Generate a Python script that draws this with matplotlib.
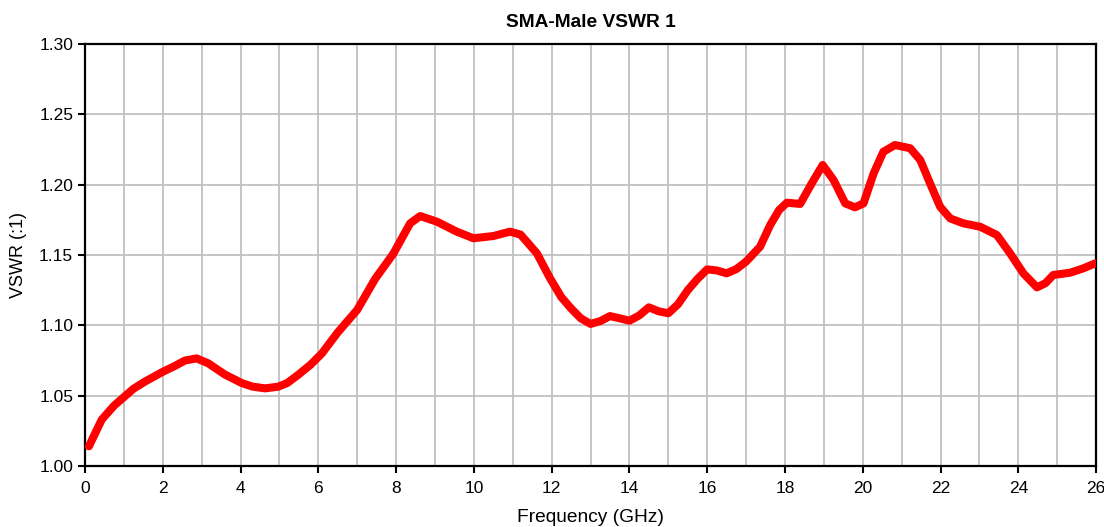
import numpy as np
import matplotlib.pyplot as plt

plt.rcParams['font.family'] = ['Liberation Sans', 'DejaVu Sans']

# values
freq_ghz = [0.1, 0.43, 0.75, 1.0, 1.25, 1.54, 2.0, 2.3, 2.57, 2.87, 3.17, 3.6,
            4.03, 4.3, 4.63, 4.97, 5.2, 5.49, 5.8, 6.09, 6.5, 7.0, 7.46, 7.93,
            8.36, 8.62, 9.05, 9.56, 9.99, 10.5, 10.93, 11.2, 11.36, 11.62, 11.96,
            12.25, 12.5, 12.75, 13.0, 13.25, 13.5, 13.75, 14.0, 14.25, 14.5,
            14.75, 15.0, 15.25, 15.5, 15.75, 16.0, 16.25, 16.5, 16.75, 17.0,
            17.36, 17.62, 17.85, 18.05, 18.39, 18.69, 18.97, 19.25, 19.55, 19.8,
            20.02, 20.28, 20.53, 20.83, 21.22, 21.48, 21.73, 21.99, 22.25, 22.59,
            23.02, 23.45, 23.79, 24.13, 24.48, 24.7, 24.9, 25.33, 25.68, 25.98]
vswr = [1.014, 1.033, 1.043, 1.049, 1.055, 1.060, 1.067, 1.071, 1.075, 1.0765,
        1.073, 1.065, 1.059, 1.0565, 1.0552, 1.0564, 1.059, 1.065, 1.072, 1.080,
        1.095, 1.111, 1.133, 1.151, 1.1725, 1.1777, 1.1737, 1.1666, 1.1619,
        1.1635, 1.1666, 1.1645, 1.1595, 1.1512, 1.1334, 1.120, 1.112, 1.105,
        1.101, 1.103, 1.1066, 1.105, 1.1033, 1.107, 1.1128, 1.110, 1.1086,
        1.115, 1.125, 1.133, 1.1398, 1.139, 1.137, 1.140, 1.1453, 1.1559,
        1.1713, 1.182, 1.1872, 1.1863, 1.201, 1.214, 1.2033, 1.1867, 1.1839,
        1.1867, 1.208, 1.2234, 1.2282, 1.2259, 1.2175, 1.201, 1.1843, 1.176,
        1.1725, 1.1701, 1.1642, 1.1512, 1.137, 1.127, 1.130, 1.1358, 1.1374,
        1.1406, 1.1441]

fig = plt.figure(figsize=(11.04, 5.27), dpi=100)
ax = fig.add_axes([0.077, 0.1157, 0.9158, 0.8008])

ax.plot(freq_ghz, vswr, color='#ff0000', linewidth=5.8,
        solid_joinstyle='round', solid_capstyle='round', zorder=3)

ax.set_xlim(0, 26)
ax.set_ylim(1.00, 1.30)
ax.set_xticks(np.arange(0, 27, 2))
ax.set_xticks(np.arange(0, 27, 1), minor=True)
ax.set_yticks(np.arange(1.00, 1.301, 0.05))
ax.set_yticklabels([f'{v:.2f}' for v in np.arange(1.00, 1.301, 0.05)])
ax.grid(True, which='both', color='#c0c0c0', linewidth=1.3)
ax.set_axisbelow(True)
ax.tick_params(which='major', direction='out', length=5, width=1.5, labelsize=12.5)
ax.tick_params(axis='x', which='major', pad=6)
ax.tick_params(which='minor', length=0)
for s in ax.spines.values():
    s.set_linewidth(1.6)
    s.set_color('black')

ax.set_title('SMA-Male VSWR 1', fontsize=13.8, fontweight='bold', pad=12)
ax.set_xlabel('Frequency (GHz)', fontsize=13.8, labelpad=9)
ax.set_ylabel('VSWR (:1)', fontsize=13, labelpad=9)

fig.savefig('out.png', dpi=100)
